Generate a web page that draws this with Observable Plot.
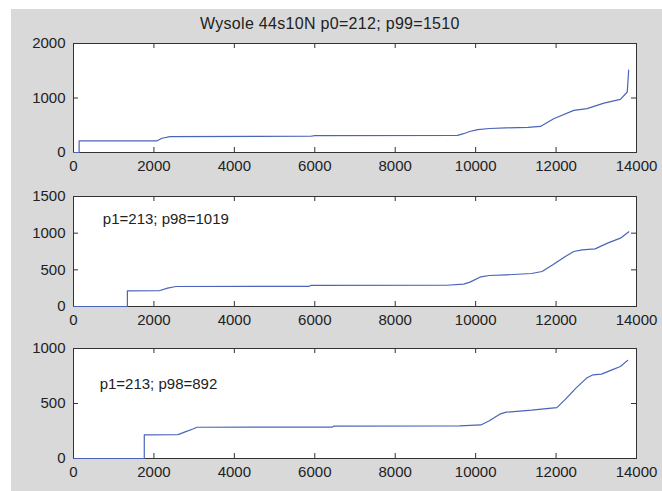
<!DOCTYPE html>
<html>
<head>
<meta charset="utf-8">
<script src="https://cdn.jsdelivr.net/npm/d3@7"></script>
<script src="https://cdn.jsdelivr.net/npm/@observablehq/plot@0.6"></script>
<style>
  html, body { margin: 0; padding: 0; background: #ffffff; width: 662px; height: 491px; overflow: hidden; }
  #bg { position: absolute; left: 11px; top: 9px; width: 651px; height: 482px; background: #d9d9d9; }
  .panel { position: absolute; left: 0; }
  #title { position: absolute; left: 200px; top: 15px; white-space: nowrap; letter-spacing: 0.3px;
    font: 16px "Liberation Sans", Arial, sans-serif; color: #222; }
</style>
</head>
<body>
<div id="bg"></div>
<div id="title"></div>
<div id="p1" class="panel"></div>
<div id="p2" class="panel"></div>
<div id="p3" class="panel"></div>
<script>
// ---- data ----
const titleText = "Wysole 44s10N p0=212; p99=1510";
const xTicks = [0, 2000, 4000, 6000, 8000, 10000, 12000, 14000];

const s1x = [0, 140, 140, 2080, 2200, 2400, 5900, 6000, 9550, 9700, 9850, 10050, 10350, 10750, 11300, 11610, 11940, 12440, 12770, 13190, 13600, 13770, 13805];
const s1y = [0, 0, 212, 215, 262, 290, 298, 310, 315, 345, 385, 420, 440, 452, 462, 478, 620, 773, 804, 905, 975, 1110, 1510];
const y1Ticks = [0, 1000, 2000];

const s2x = [0, 1340, 1340, 2130, 2340, 2550, 5860, 5900, 9280, 9700, 9860, 10130, 10340, 10760, 11390, 11650, 11920, 12230, 12440, 12650, 12970, 13280, 13600, 13810];
const s2y = [0, 0, 213, 215, 250, 273, 275, 287, 290, 305, 332, 405, 423, 432, 450, 477, 568, 682, 750, 773, 786, 864, 932, 1019];
const y2Ticks = [0, 500, 1000, 1500];
const note2 = "p1=213; p98=1019";

const s3x = [0, 1760, 1760, 2600, 2760, 2970, 3070, 6440, 6480, 9600, 10130, 10340, 10600, 10760, 11390, 11700, 12020, 12230, 12500, 12760, 12920, 13130, 13390, 13600, 13780];
const s3y = [0, 0, 215, 217, 240, 268, 284, 286, 295, 297, 305, 343, 403, 421, 439, 451, 463, 537, 642, 731, 761, 767, 806, 836, 892];
const y3Ticks = [0, 500, 1000];
const note3 = "p1=213; p98=892";

// ---- drawing ----
document.getElementById("title").textContent = titleText;

const FONT = '"Liberation Sans", Arial, Helvetica, sans-serif';
const LINE = "#4a64b9";
const AX = "#333333";
const LEFT = 73, RIGHT = 636, PAD = 30;
const fmt = d => String(d);

function panel(el, top, bottom, xs, ys, yDomain, yTicks, note) {
  const H = bottom - top;
  const Wp = RIGHT - LEFT;
  const data = xs.map((x, i) => ({x, y: ys[i]}));
  const marks = [
    Plot.frame({fill: "white", stroke: "none"}),
    Plot.tickX(xTicks, {x: d => d, insetTop: H - 5, stroke: AX}),
    Plot.tickX(xTicks, {x: d => d, insetBottom: H - 5, stroke: AX}),
    Plot.tickY(yTicks, {y: d => d, insetRight: Wp - 5, stroke: AX}),
    Plot.tickY(yTicks, {y: d => d, insetLeft: Wp - 5, stroke: AX}),
    Plot.frame({stroke: AX, strokeWidth: 1}),
    Plot.line(data, {x: "x", y: "y", stroke: LINE, strokeWidth: 1.2}),
    Plot.axisX(xTicks, {tickSize: 0, tickPadding: 8, tickFormat: fmt, fill: "#222", label: null, fontSize: 15}),
    Plot.axisY(yTicks, {tickSize: 0, tickPadding: 8, tickFormat: fmt, fill: "#222", label: null, fontSize: 15})
  ];
  if (note) {
    marks.push(Plot.text([note], {x: note.x, y: note.y, text: d => d.text, textAnchor: "start", fill: "#222", fontSize: 15}));
  }
  const chart = Plot.plot({
    width: 662,
    height: H + 2 * PAD,
    marginLeft: LEFT,
    marginRight: 662 - RIGHT,
    marginTop: PAD,
    marginBottom: PAD,
    style: {background: "transparent", fontFamily: FONT, fontSize: "15px", color: "#222"},
    x: {domain: [0, 14000], axis: null},
    y: {domain: yDomain, axis: null},
    marks
  });
  const div = document.getElementById(el);
  div.style.top = (top - PAD) + "px";
  div.appendChild(chart);
}

panel("p1", 43, 152, s1x, s1y, [0, 2000], y1Ticks, null);
panel("p2", 196, 306, s2x, s2y, [0, 1500], y2Ticks, {text: note2, x: 730, y: 1190});
panel("p3", 348, 458, s3x, s3y, [0, 1000], y3Ticks, {text: note3, x: 650, y: 680});
</script>
</body>
</html>
